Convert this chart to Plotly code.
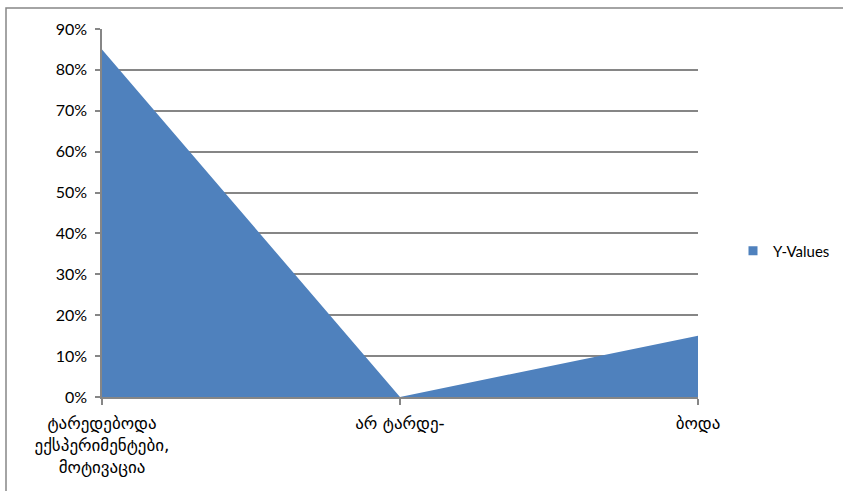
import plotly.graph_objects as go

categories = ["ტარედებოდა<br>ექსპერიმენტები,<br>მოტივაცია", "არ ტარდე-", "ბოდა"]
values = [0.85, 0.0, 0.15]
y_ticks = [0, 0.1, 0.2, 0.3, 0.4, 0.5, 0.6, 0.7, 0.8, 0.9]
y_labels = ["0%", "10%", "20%", "30%", "40%", "50%", "60%", "70%", "80%", "90%"]
series_name = "Y-Values"

W, H = 843, 491
L, R, T, B = 102, 698, 29, 397
color = "#4F81BD"
gray = "#868686"
font_fam = "Lato, 'DejaVu Sans', sans-serif"

xs = list(range(len(categories)))

fig = go.Figure()
fig.add_trace(go.Scatter(
    x=xs, y=values, mode="lines", fill="tozeroy",
    fillcolor=color, line=dict(width=0, color=color),
    showlegend=False, hoverinfo="skip"))
fig.add_trace(go.Scatter(
    x=[None], y=[None], mode="markers", name=series_name,
    marker=dict(symbol="square", size=9, color=color)))

pw = R - L
ph = B - T
fig.update_layout(
    width=W, height=H,
    margin=dict(l=L, r=W - R, t=T, b=H - B, pad=0, autoexpand=False),
    plot_bgcolor="white", paper_bgcolor="white",
    font=dict(family=font_fam, size=14, color="#000000"),
    xaxis=dict(range=[0, len(categories) - 1], tickvals=xs, ticktext=categories,
               showgrid=False, zeroline=False, showline=True, linecolor=gray, linewidth=1.5,
               ticks="outside", ticklen=6, tickcolor=gray, tickwidth=1.5,
               ticklabelstandoff=4,
               tickfont=dict(family="'DejaVu Sans', sans-serif", size=17)),
    yaxis=dict(range=[0, 0.9], tickvals=y_ticks, ticktext=y_labels,
               showgrid=True, gridcolor=gray, gridwidth=1.5, zeroline=False,
               showline=True, linecolor=gray, linewidth=1.5,
               ticks="outside", ticklen=5, tickcolor=gray, tickwidth=1.5,
               ticklabelstandoff=5,
               tickfont=dict(size=16)),
    legend=dict(xref="container", yref="container",
                x=733 / W, y=1 - 251 / H, xanchor="left", yanchor="middle",
                font=dict(size=15), bgcolor="rgba(0,0,0,0)", itemwidth=30),
    shapes=[
        dict(type="rect", xref="paper", yref="paper",
             x0=(6 - L) / pw, x1=(W + 100 - L) / pw,
             y0=(B - H - 100) / ph, y1=(B - 8) / ph,
             line=dict(color=gray, width=1.5), fillcolor="rgba(0,0,0,0)"),
    ],
)

fig.write_html("out.html")
